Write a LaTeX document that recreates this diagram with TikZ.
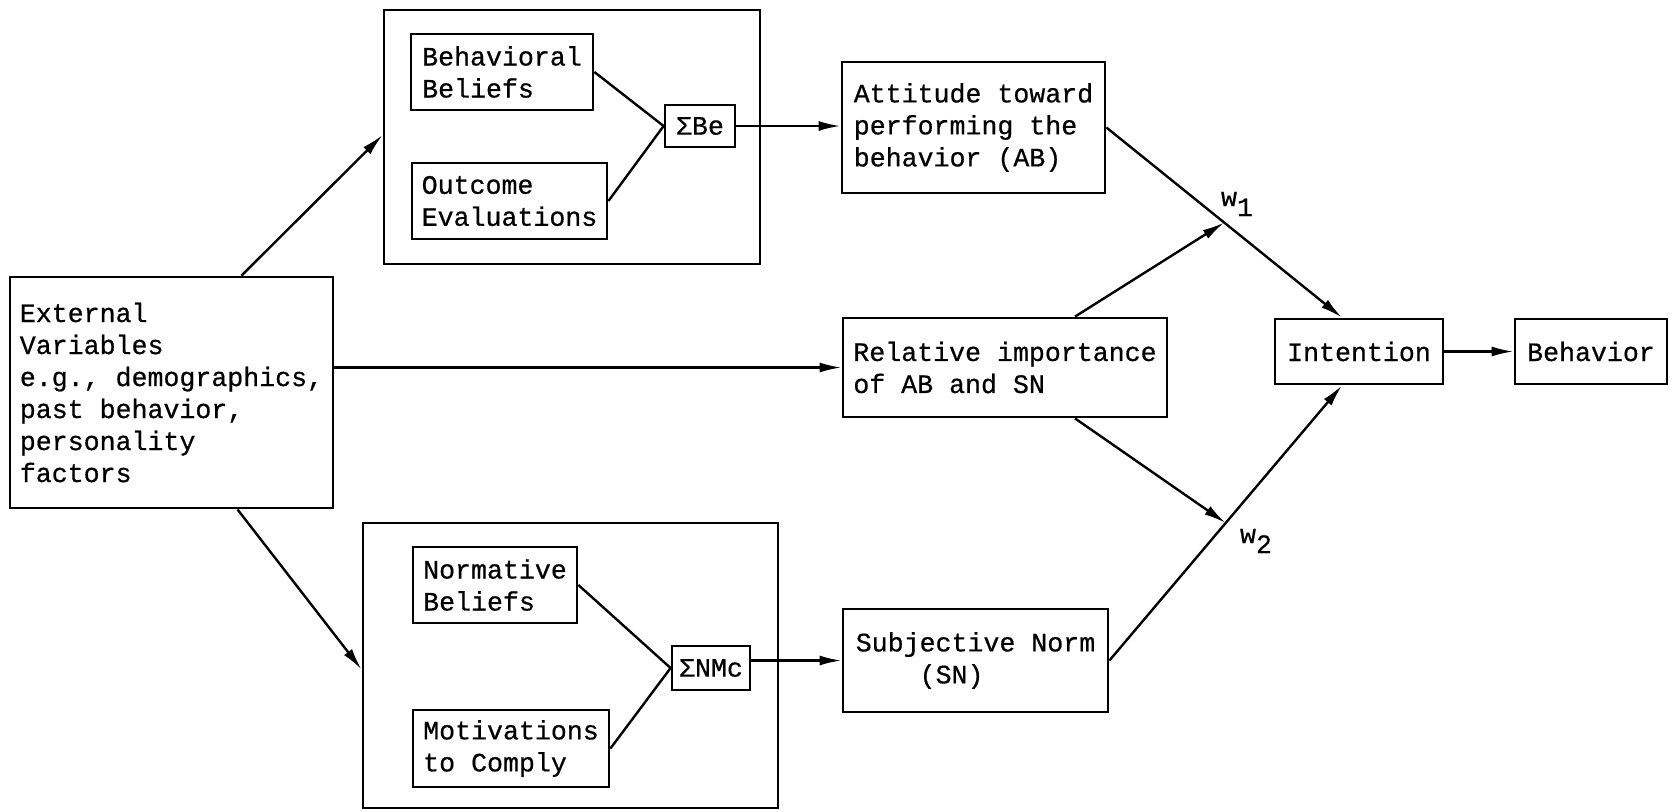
\documentclass[tikz,border=0pt]{standalone}
\usepackage{fontspec}
\newfontfamily\tw[FakeBold=0.6]{Liberation Mono}
\usetikzlibrary{arrows.meta,calc}
\begin{document}
\begin{tikzpicture}[x=0.5pt,y=-0.5pt,
  box/.style={draw, line width=1.4pt, align=left, inner sep=0pt,
    font=\tw\fontsize{13.3pt}{16pt}\selectfont},
  lbl/.style={inner sep=0pt, font=\tw\fontsize{13.3pt}{16pt}\selectfont},
  ln/.style={line width=1.2pt},
  arr/.style={line width=1.2pt, -{Latex[length=11pt,width=5pt]}}]
\useasboundingbox (0,0) rectangle (1672,811);
% top group
\node[box, minimum width=188pt, minimum height=127pt] (outerTop) at (572,137) {};
\node[box, minimum width=91pt, minimum height=38pt] (BB) at (502,72) {Behavioral\\Beliefs};
\node[box, minimum width=97.5pt, minimum height=38pt] (OE) at (509.5,201) {Outcome\\Evaluations};
\node[box, minimum width=35pt, minimum height=21pt] (SBe) at (700,126) {ΣBe};
\node[box, minimum width=131.5pt, minimum height=65.5pt] (AB) at (973.5,127.5) {Attitude toward\\performing the\\behavior (AB)};
% middle
\node[box, minimum width=162pt, minimum height=49.5pt] (REL) at (1005,367.5) {Relative importance\\of AB and SN};
\node[box, minimum width=84pt, minimum height=32.5pt] (INT) at (1359,351.5) {Intention};
\node[box, minimum width=76pt, minimum height=32.5pt] (BEH) at (1591,351.5) {Behavior};
\node[box, minimum width=161.5pt, minimum height=115.5pt] (EXT) at (171.5,392.5)
  {External\\Variables\\e.g., demographics,\\past behavior,\\personality\\factors};
% bottom group
\node[box, minimum width=207.5pt, minimum height=142.5pt] (outerBot) at (570.5,665.5) {};
\node[box, minimum width=82pt, minimum height=38pt] (NB) at (495,585) {Normative\\Beliefs};
\node[box, minimum width=98pt, minimum height=38.5pt] (MC) at (511,748.5) {Motivations\\to Comply};
\node[box, minimum width=39pt, minimum height=22pt] (SNMc) at (711,668) {ΣNMc};
\node[box, minimum width=132.5pt, minimum height=51.5pt] (SN) at (975.5,660.5) {Subjective Norm\\\phantom{xxxx}(SN)};
% connectors
\draw[arr] ([xshift=35pt]EXT.north) -- ([yshift=1pt]outerTop.west);
\draw[arr] ([xshift=33pt]EXT.south) -- ([yshift=-2pt]outerBot.west);
\draw[arr] (EXT.east |- REL.west) -- (REL.west);
\draw[ln] (BB.east) -- (SBe.west);
\draw[ln] (OE.east) -- (SBe.west);
\draw[arr] (SBe.east) -- (SBe.east -| AB.west);
\draw[ln] (NB.east) -- (SNMc.west);
\draw[ln] (MC.east) -- (SNMc.west);
\draw[arr] (SN.west -| SNMc.east) -- (SN.west);
\coordinate (itop) at ([xshift=-8.5pt]INT.north);
\coordinate (ibot) at ([xshift=-8.5pt]INT.south);
\coordinate (w1) at ($(AB.east)!0.5!(itop)$);
\coordinate (w2) at ($(SN.east)!0.5!(ibot)$);
\draw[arr] (AB.east) -- (itop);
\draw[arr] (SN.east) -- (ibot);
\draw[arr] ([xshift=35pt]REL.north) -- (w1);
\draw[arr] ([xshift=35pt]REL.south) -- (w2);
\draw[arr] (INT.east) -- (BEH.west);
% weight labels
\node[lbl] (lw1) at (1237,204) {w\raisebox{-5pt}{1}};
\node[lbl] (lw2) at (1256,541) {w\raisebox{-5pt}{2}};
\end{tikzpicture}
\end{document}
